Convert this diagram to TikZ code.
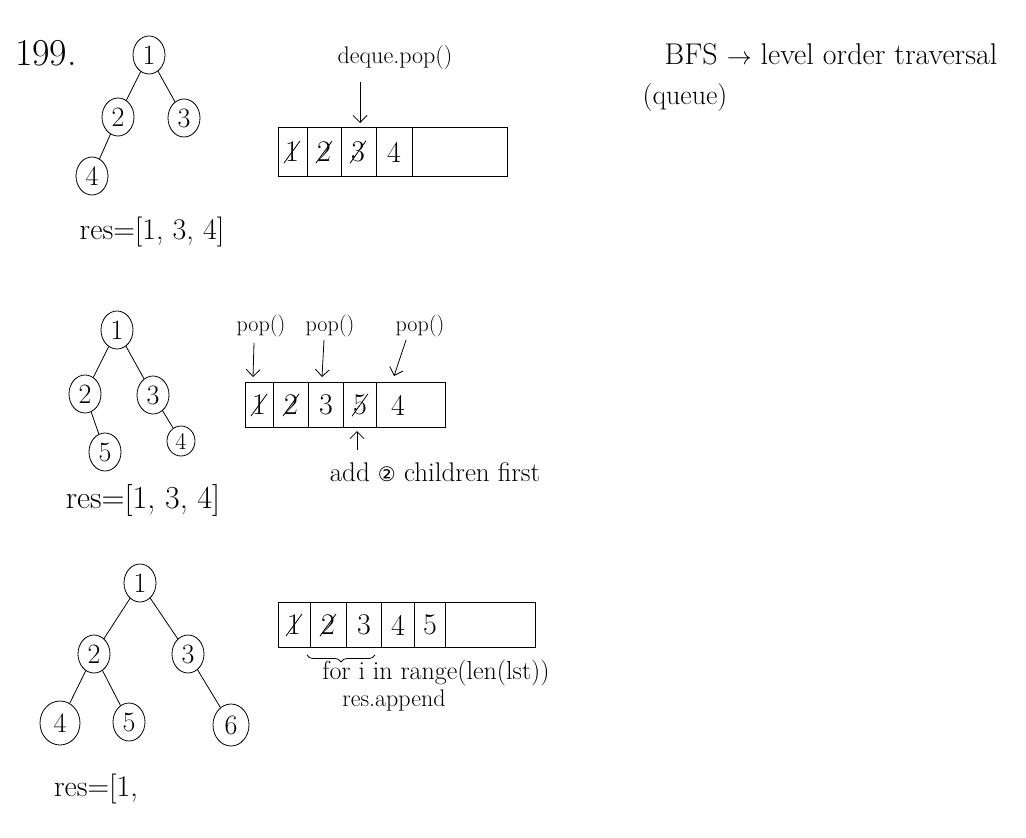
\documentclass[tikz,border=0pt]{standalone}
\usepackage{fontspec}
\newfontfamily\symfont{DejaVu Sans}
\usetikzlibrary{shapes.geometric,arrows.meta,decorations.pathreplacing}
\tikzset{
  tnode/.style={draw, ellipse, thick, minimum width=32pt, minimum height=38pt, inner sep=0pt, font=\fontsize{28}{28}\selectfont},
  cell/.style={inner sep=1pt, font=\fontsize{30}{30}\selectfont},
  note/.style={inner sep=0pt, font=\fontsize{22}{24}\selectfont},
  big/.style={inner sep=0pt, font=\fontsize{30}{30}\selectfont},
  pointer/.style={thick, -{Straight Barb[length=7pt,width=14pt]}},
}
\begin{document}
\begin{tikzpicture}[x=1pt,y=-1pt]
\useasboundingbox[fill=white] (0,0) rectangle (1026,838);

% first tree
\node (title) at (46,53) [inner sep=0pt, font=\fontsize{38}{38}\selectfont] {199.};
\node (a1) at (149,55) [tnode] {1};
\node (a2) at (118,117) [tnode] {2};
\node (a3) at (184,118) [tnode] {3};
\node (a4) at (92,176) [tnode] {4};
\node (res1) at (152,232) [big] {res=[1, 3, 4]};
\draw[thick]
(a1) to (a2)
(a1) to (a3)
(a2) to (a4);

\draw[thick] (278,127) rectangle (507,176);
\foreach \x in {307,341,376,412}
  \draw[thick] (\x,127) -- (\x,176);
\node (p1) at (292,152) [cell] {1};
\node (p2) at (324,152) [cell] {2};
\node (p3) at (358,152) [cell] {3};
\node (p4) at (394,152) [cell] {4};
\foreach \c in {p1,p2,p3}
  \draw[thick] (\c.south west) -- (\c.north east);
\node (dq) at (395,58) [note, font=\fontsize{24}{26}\selectfont] {deque.pop()};
\coordinate (dqtail) at (360,82);
\coordinate (dqtip) at (360,123);
\draw[pointer] (dqtail) -- (dqtip);

\node (bfs) at (831,54) [note, font=\fontsize{30}{32}\selectfont] {BFS $\rightarrow$ level order traversal};
\node (que) at (685,98) [note, font=\fontsize{28}{30}\selectfont] {(queue)};

% second tree
\node (b1) at (117,330) [tnode] {1};
\node (b2) at (85,394) [tnode] {2};
\node (b3) at (153,395) [tnode] {3};
\node (b5) at (105,452) [tnode] {5};
\node (b4) at (181,441) [tnode, minimum width=28pt, minimum height=30pt, font=\fontsize{24}{24}\selectfont] {4};
\node (res2) at (143,500) [big, font=\fontsize{32}{32}\selectfont] {res=[1, 3, 4]};
\draw[thick]
(b1) to (b2)
(b1) to (b3)
(b2) to (b5)
(b3) to (b4);

\draw[thick] (245,382) rectangle (445,427);
\foreach \x in {273,308,343,376}
  \draw[thick] (\x,382) -- (\x,427);
\node (q1) at (259,405) [cell] {1};
\node (q2) at (291,405) [cell] {2};
\node (q3) at (326,405) [cell] {3};
\node (q4) at (360,405) [cell] {5};
\node (q5) at (398,405) [cell] {4};
\foreach \c in {q1,q2,q4}
  \draw[thick] (\c.south west) -- (\c.north east);
\node (pop1) at (261,326) [note] {pop()};
\node (pop2) at (330,326) [note] {pop()};
\node (pop3) at (420,326) [note] {pop()};
\coordinate (t1) at (254,343);
\coordinate (h1) at (253,377);
\coordinate (t2) at (324,340);
\coordinate (h2) at (322,377);
\coordinate (t3) at (406,340);
\coordinate (h3) at (394,376);
\coordinate (ut) at (357,450);
\coordinate (uh) at (357,431);
\draw[pointer] (t1) -- (h1);
\draw[pointer] (t2) -- (h2);
\draw[pointer] (t3) -- (h3);
\draw[pointer] (ut) -- (uh);
\node (add) at (435,472) [note, font=\fontsize{27}{28}\selectfont] {add {\symfont\fontsize{20}{20}\selectfont ②} children first};

% third tree
\node (c1) at (140,583) [tnode] {1};
\node (c2) at (94,654) [tnode] {2};
\node (c3) at (188,654) [tnode] {3};
\node (c4) at (60,723) [tnode, minimum width=40pt, minimum height=44pt] {4};
\node (c5) at (129,722) [tnode] {5};
\node (c6) at (231,725) [tnode, minimum width=36pt, minimum height=42pt] {6};
\node (res3) at (96,789) [big] {res=[1,};
\draw[thick]
(c1) to (c2)
(c1) to (c3)
(c2) to (c4)
(c2) to (c5)
(c3) to (c6);

\draw[thick] (278,602) rectangle (535,647);
\foreach \x in {310,346,381,414,445}
  \draw[thick] (\x,602) -- (\x,647);
\node (r1) at (294,625) [cell] {1};
\node (r2) at (328,625) [cell] {2};
\node (r3) at (364,625) [cell] {3};
\node (r4) at (398,625) [cell] {4};
\node (r5) at (430,625) [cell] {5};
\foreach \c in {r1,r2}
  \draw[thick] (\c.south west) -- (\c.north east);
\coordinate (bl) at (307,655);
\coordinate (br) at (375,655);
\draw[thick, decorate, decoration={brace, mirror, amplitude=7pt}] (bl) -- (br);
\node (for) at (436,673) [note, font=\fontsize{26}{28}\selectfont] {for i in range(len(lst))};
\node (app) at (394,701) [note, font=\fontsize{24}{26}\selectfont] {res.append};
\end{tikzpicture}
\end{document}
